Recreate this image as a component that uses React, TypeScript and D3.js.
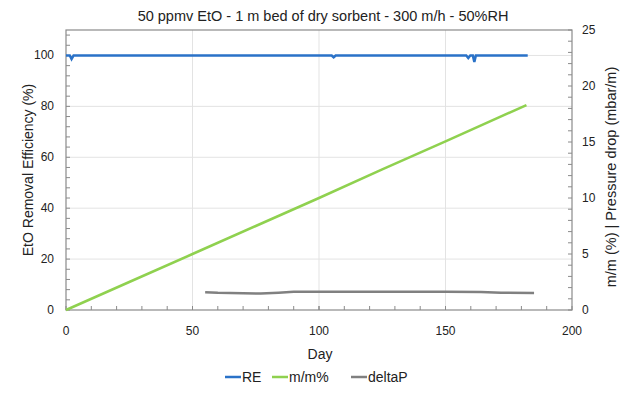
import React from 'react';
import * as d3 from 'd3';

// RE (%), left axis
const reDays = [0, 1.5, 2.2, 3, 105, 105.8, 106.6, 158.2, 159, 159.8, 160.8, 161.4, 162, 182.5];
const reValues = [100, 100, 98.6, 100, 100, 99.3, 100, 100, 99.0, 100, 100, 97.4, 100, 100];

// m/m %, right axis
const mmDays = [0, 25, 50, 75, 100, 125, 150, 182];
const mmValues = [0, 2.5, 5.0, 7.5, 10.0, 12.55, 15.05, 18.3];

// deltaP (mbar/m), right axis
const dpDays = [55, 60, 70, 77, 84, 90, 110, 130, 150, 164, 172, 185];
const dpValues = [1.58, 1.53, 1.49, 1.48, 1.55, 1.62, 1.62, 1.62, 1.62, 1.6, 1.55, 1.52];

const xTicks = [0, 50, 100, 150, 200];
const leftTicks = [0, 20, 40, 60, 80, 100];
const rightTicks = [0, 5, 10, 15, 20, 25];

const colors = { re: '#2a72c8', mm: '#8fd14f', dp: '#808080' };
const axisColor = '#8a8a8a';
const gridColor = '#e3e3e3';
const font = 'Liberation Sans, Arial, sans-serif';

export default function App() {
  const width = 640;
  const height = 393;
  const plot = { left: 66, right: 572, top: 30, bottom: 310 };

  const x = d3.scaleLinear().domain([0, 200]).range([plot.left, plot.right]);
  const yL = d3.scaleLinear().domain([0, 110]).range([plot.bottom, plot.top]);
  const yR = d3.scaleLinear().domain([0, 25]).range([plot.bottom, plot.top]);

  const lineL = d3.line<[number, number]>().x(d => x(d[0])).y(d => yL(d[1]));
  const lineR = d3.line<[number, number]>().x(d => x(d[0])).y(d => yR(d[1]));

  const rePts = reDays.map((d, i) => [d, reValues[i]] as [number, number]);
  const mmPts = mmDays.map((d, i) => [d, mmValues[i]] as [number, number]);
  const dpPts = dpDays.map((d, i) => [d, dpValues[i]] as [number, number]);

  const xMinor = d3.range(10, 200, 10);
  const leftMinor = d3.range(4, 110, 4).filter(v => v % 20 !== 0);
  const rightMinor = d3.range(1, 25, 1).filter(v => v % 5 !== 0);

  const legend = [
    { label: 'RE', color: colors.re, x: 225 },
    { label: 'm/m%', color: colors.mm, x: 272 },
    { label: 'deltaP', color: colors.dp, x: 351 }
  ];

  return (
    <svg
      width={width}
      height={height}
      style={{ position: 'absolute', left: 0, top: 0, background: '#fff' }}
      fontFamily={font}
    >
      <text x={323} y={21} textAnchor="middle" fontSize={14.5} fill="#222">
        50 ppmv EtO - 1 m bed of dry sorbent - 300 m/h - 50%RH
      </text>

      {/* grid */}
      <g stroke={gridColor} strokeWidth={1}>
        {[50, 100, 150].map(v => (
          <line key={'gx' + v} x1={x(v)} x2={x(v)} y1={plot.top} y2={plot.bottom} />
        ))}
        {[20, 40, 60, 80, 100].map(v => (
          <line key={'gy' + v} x1={plot.left} x2={plot.right} y1={yL(v)} y2={yL(v)} />
        ))}
      </g>

      {/* frame + ticks */}
      <rect
        x={plot.left}
        y={plot.top}
        width={plot.right - plot.left}
        height={plot.bottom - plot.top}
        fill="none"
        stroke={axisColor}
        strokeWidth={1.2}
      />
      <g stroke={axisColor} strokeWidth={1}>
        {xTicks.concat(xMinor).map(v => (
          <line key={'tx' + v} x1={x(v)} x2={x(v)} y1={plot.bottom} y2={plot.bottom - 4} />
        ))}
        {leftTicks.concat(leftMinor).map(v => (
          <line key={'tl' + v} x1={plot.left} x2={plot.left + 4} y1={yL(v)} y2={yL(v)} />
        ))}
        {rightTicks.concat(rightMinor).map(v => (
          <line key={'tr' + v} x1={plot.right} x2={plot.right - 4} y1={yR(v)} y2={yR(v)} />
        ))}
      </g>

      {/* tick labels */}
      <g fontSize={12} fill="#222">
        {xTicks.map(v => (
          <text key={'lx' + v} x={x(v)} y={plot.bottom + 25} textAnchor="middle">
            {v}
          </text>
        ))}
        {leftTicks.map(v => (
          <text key={'ll' + v} x={plot.left - 12} y={yL(v) + 4} textAnchor="end">
            {v}
          </text>
        ))}
        {rightTicks.map(v => (
          <text key={'lr' + v} x={plot.right + 10} y={yR(v) + 4} textAnchor="start">
            {v}
          </text>
        ))}
      </g>

      {/* axis titles */}
      <text x={320} y={359} textAnchor="middle" fontSize={14} fill="#222">
        Day
      </text>
      <text
        transform={`translate(33, 170) rotate(-90)`}
        textAnchor="middle"
        fontSize={14}
        fill="#222"
      >
        EtO Removal Efficiency (%)
      </text>
      <text
        transform={`translate(616, 177) rotate(-90)`}
        textAnchor="middle"
        fontSize={14.5}
        fill="#222"
      >
        m/m (%) | Pressure drop (mbar/m)
      </text>

      {/* series */}
      <path d={lineR(dpPts) || ''} fill="none" stroke={colors.dp} strokeWidth={2.5} />
      <path d={lineR(mmPts) || ''} fill="none" stroke={colors.mm} strokeWidth={2.5} />
      <path d={lineL(rePts) || ''} fill="none" stroke={colors.re} strokeWidth={2.5} />

      {/* legend */}
      <g fontSize={14} fill="#222">
        {legend.map(l => (
          <g key={l.label}>
            <line x1={l.x} x2={l.x + 16} y1={377} y2={377} stroke={l.color} strokeWidth={2.5} />
            <text x={l.x + 17} y={382}>
              {l.label}
            </text>
          </g>
        ))}
      </g>
    </svg>
  );
}
